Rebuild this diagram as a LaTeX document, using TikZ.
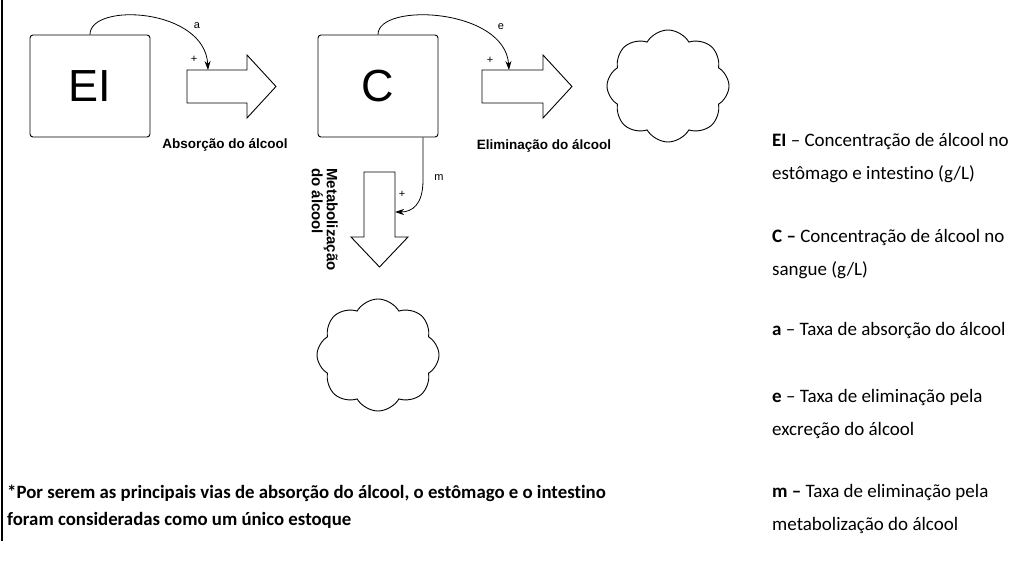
\documentclass[tikz,border=0pt]{standalone}
\usepackage{fontspec}
\setmainfont{Carlito}[Ligatures=CommonOff]
\newfontfamily\arialfont{Liberation Sans}
\usetikzlibrary{shapes.symbols,arrows.meta}

\begin{document}
\begin{tikzpicture}[x=1pt,y=1pt,
  stock/.style={draw, rounded corners=3pt, minimum width=120pt, minimum height=102pt, line width=0.9pt, font=\arialfont\fontsize{45}{45}\selectfont},
  sink/.style={draw, cloud, cloud puffs=8, cloud puff arc=120, aspect=1.15, minimum width=122pt, minimum height=112pt, inner sep=0pt, line width=0.9pt},
  flow/.style={draw, line width=0.9pt, fill=white},
  link/.style={-{Stealth[length=9pt,width=6pt]}, line width=0.8pt},
  small/.style={font=\arialfont\fontsize{11}{11}\selectfont},
  flowlabel/.style={font=\arialfont\bfseries\fontsize{13.5}{15}\selectfont},
  legend/.style={anchor=west, align=left, inner sep=0pt, font=\fontsize{19}{33}\selectfont}]
\useasboundingbox (0,0) rectangle (1017,-572);
\draw[line width=2pt] (1.5,0) -- (1.5,-541);
\node[stock] (EI) at (90,-86) {EI};
\node[stock] (C) at (378,-86) {C};
\node[sink] (out1) at (668,-86) {};
\node[sink] (out2) at (378,-355) {};
\draw[flow] (187,-70) -- (247,-70) -- (247,-55) -- (276,-86.5) -- (247,-118) -- (247,-103) -- (187,-103) -- cycle;
\draw[flow] (482,-70) -- (543,-70) -- (543,-55) -- (572,-86.5) -- (543,-118) -- (543,-103) -- (482,-103) -- cycle;
\draw[flow] (364,-172) -- (395,-172) -- (395,-237) -- (408,-237) -- (379.5,-267) -- (351,-237) -- (364,-237) -- cycle;
\coordinate (absin) at (208,-70);
\coordinate (elimin) at (509,-70);
\coordinate (metin) at (395,-212);
\draw[link] (EI.north) .. controls (90,-2) and (205,-8) .. (absin);
\draw[link] (C.north) .. controls (378,-2) and (505,-8) .. (elimin);
\draw[link] ([xshift=45pt]C.south) -- (423,-180) .. controls (423,-205) and (412,-212) .. (metin);
\node[small] (la) at (197,-26) {a};
\node[small] (pa) at (194,-59) {+};
\node[small] (le) at (501,-27) {e};
\node[small] (pe) at (490,-60) {+};
\node[small] (lm) at (439,-178) {m};
\node[small] (pm) at (402,-194) {+};
\node[flowlabel] (absl) at (225,-145) {Absorção do álcool};
\node[flowlabel] (elil) at (544,-146) {Eliminação do álcool};
\node[flowlabel, rotate=-90, anchor=north west, align=left, inner sep=0pt, font=\arialfont\bfseries\fontsize{15}{15}\selectfont] (metl) at (338,-168) {Metabolização\\do álcool};
\node[legend] (kEI) at (772,-158.5) {\textbf{EI} – Concentração de álcool no\\estômago e intestino (g/L)};
\node[legend] (kC) at (772,-254) {\textbf{C –} Concentração de álcool no\\sangue (g/L)};
\node[legend] (ka) at (772,-330) {\textbf{a} – Taxa de absorção do álcool};
\node[legend] (ke) at (772,-414) {\textbf{e} – Taxa de eliminação pela\\excreção do álcool};
\node[legend] (km) at (772,-509) {\textbf{m –} Taxa de eliminação pela\\metabolização do álcool};
\node[anchor=west, align=left, inner sep=0pt, font=\bfseries\fontsize{18.8}{27}\selectfont] (note) at (7,-506.5) {*Por serem as principais vias de absorção do álcool, o estômago e o intestino\\foram consideradas como um único estoque};
\end{tikzpicture}
\end{document}
